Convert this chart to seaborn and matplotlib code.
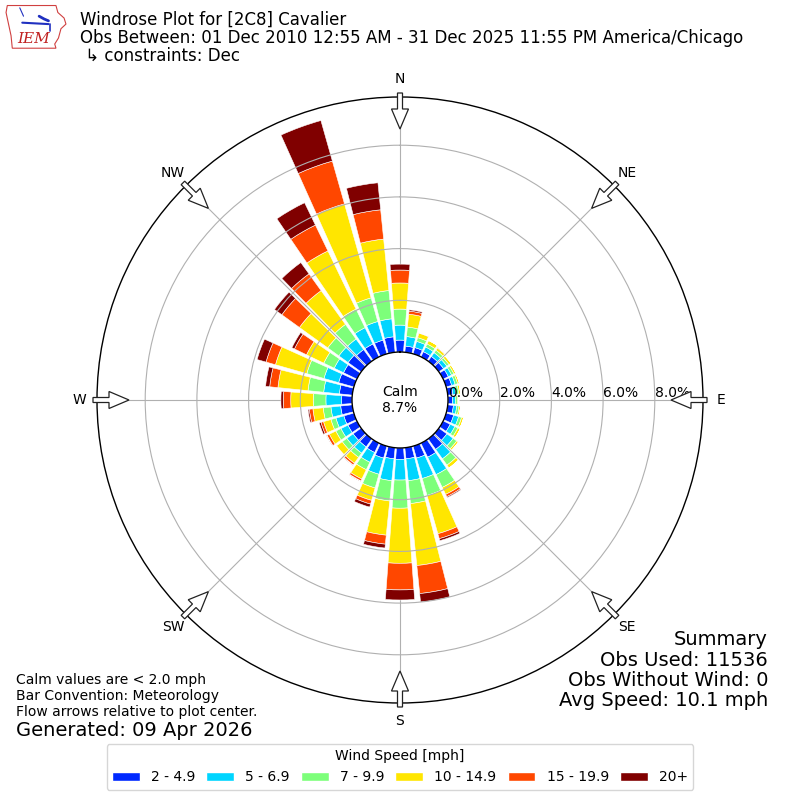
import numpy as np
import matplotlib
matplotlib.use("Agg")
import matplotlib.pyplot as plt
from matplotlib.patches import Patch, FancyArrow, Polygon
import seaborn as sns

# direction bins (deg, meteorological convention) and percent frequency per speed bin
directions = np.arange(0, 360, 10)
speed_labels = ["2 - 4.9", "5 - 6.9", "7 - 9.9", "10 - 14.9", "15 - 19.9", "20+"]
s_2_5 = [0.46, 0.24, 0.25, 0.22, 0.22, 0.22, 0.22, 0.22, 0.20, 0.18, 0.22, 0.30,
         0.30, 0.38, 0.50, 0.60, 0.48, 0.43, 0.44, 0.43, 0.48, 0.40, 0.38, 0.38,
         0.38, 0.40, 0.45, 0.40, 0.50, 0.61, 0.57, 0.62, 0.55, 0.55, 0.55, 0.60]
s_5_7 = [0.58, 0.37, 0.25, 0.20, 0.18, 0.16, 0.14, 0.14, 0.13, 0.11, 0.13, 0.20,
         0.20, 0.30, 0.45, 0.75, 0.82, 0.85, 0.80, 0.85, 0.65, 0.42, 0.30, 0.30,
         0.30, 0.32, 0.38, 0.61, 0.61, 0.59, 0.40, 0.44, 0.50, 0.70, 0.75, 0.70]
s_7_10 = [0.62, 0.37, 0.15, 0.13, 0.12, 0.10, 0.10, 0.10, 0.10, 0.08, 0.09, 0.12,
          0.13, 0.17, 0.30, 0.55, 0.68, 0.89, 1.09, 0.79, 0.55, 0.32, 0.20, 0.22,
          0.22, 0.20, 0.30, 0.49, 0.61, 0.69, 0.45, 0.53, 0.70, 0.80, 0.95, 1.10]
s_10_15 = [1.01, 0.50, 0.18, 0.15, 0.10, 0.10, 0.08, 0.07, 0.07, 0.05, 0.06, 0.08,
           0.10, 0.08, 0.14, 0.30, 1.54, 2.41, 2.13, 1.33, 0.50, 0.40, 0.28, 0.27,
           0.28, 0.30, 0.40, 0.87, 1.17, 1.26, 0.74, 1.35, 1.61, 2.50, 3.78, 2.00]
s_15_20 = [0.50, 0.12, 0.02, 0.00, 0.03, 0.00, 0.00, 0.00, 0.00, 0.00, 0.00, 0.00,
           0.00, 0.00, 0.00, 0.10, 0.20, 1.09, 1.03, 0.35, 0.15, 0.08, 0.08, 0.02,
           0.10, 0.10, 0.14, 0.29, 0.32, 0.38, 0.52, 0.84, 0.80, 1.11, 1.72, 1.14]
s_20p = [0.23, 0.05, 0.00, 0.00, 0.00, 0.00, 0.00, 0.00, 0.00, 0.00, 0.00, 0.00,
         0.00, 0.00, 0.00, 0.04, 0.08, 0.33, 0.39, 0.15, 0.12, 0.02, 0.02, 0.00,
         0.02, 0.07, 0.05, 0.09, 0.16, 0.36, 0.11, 0.35, 0.54, 0.96, 1.63, 1.05]
calm_pct = 8.7
ring_ticks = [0, 2, 4, 6, 8]
compass = ["N", "NE", "E", "SE", "S", "SW", "W", "NW"]

sns.set_theme(style="white", rc={"text.color": "black", "xtick.color": "black",
                                 "ytick.color": "black", "axes.edgecolor": "black"})
plt.rcParams["font.family"] = ["DejaVu Sans"]

colors = sns.color_palette(list(plt.cm.jet(np.linspace(0, 1, 7)[1:])))
bins = [s_2_5, s_5_7, s_7_10, s_10_15, s_15_20, s_20p]

fig = plt.figure(figsize=(8, 8), dpi=100)
ax = fig.add_axes([0.12125, 0.12125, 0.7575, 0.7575], projection="polar")
ax.set_theta_zero_location("N")
ax.set_theta_direction(-1)
rmax = 9.865
ax.set_ylim(0, rmax)
ax.set_rorigin(-1.857)

theta = np.deg2rad(directions)
width = np.deg2rad(10) * 0.84
bottom = np.zeros(len(directions))
for vals, c in zip(bins, colors):
    vals = np.array(vals)
    ax.bar(theta, vals, width=width, bottom=bottom, color=c,
           edgecolor="white", linewidth=0.4, zorder=1)
    bottom += vals

# radial spokes drawn under the bars, rings on top
for t in np.deg2rad(np.arange(0, 360, 45)):
    ax.plot([t, t], [0, rmax], color="#b0b0b0", lw=0.8, zorder=0.5)
ax.xaxis.grid(False)
ax.set_axisbelow(False)
ax.yaxis.grid(True, color="#b0b0b0", lw=0.8)
ax.set_yticks(ring_ticks[1:])
ax.set_yticklabels([])
for r in ring_ticks:
    ax.text(np.pi / 2, r, f"{r:.1f}%", ha="left", va="bottom", fontsize=10, zorder=5)

ax.set_xticks(np.deg2rad(np.arange(0, 360, 45)))
ax.set_xticklabels(compass, fontsize=10)
ax.tick_params(axis="x", pad=0)
ax.spines["polar"].set_linewidth(1.0)
ax.spines["inner"].set_linewidth(1.0)
ax.spines["inner"].set_color("black")

fig.text(0.5, 0.5, f"Calm\n{calm_pct}%", ha="center", va="center", fontsize=10)

# flow arrows on the outer ring pointing at the centre
for b in np.deg2rad(np.arange(0, 360, 45)):
    r0, r1 = 307 / 800, 271 / 800
    x0, y0 = 0.5 + r0 * np.sin(b), 0.5 + r0 * np.cos(b)
    x1, y1 = 0.5 + r1 * np.sin(b), 0.5 + r1 * np.cos(b)
    fig.add_artist(FancyArrow(x0, y0, x1 - x0, y1 - y0, width=5 / 800,
                              head_width=17 / 800, head_length=20 / 800,
                              length_includes_head=True, fc="white", ec="#222222",
                              lw=0.9, transform=fig.transFigure))

fig.text(0.1, 0.975, "Windrose Plot for [2C8] Cavalier", fontsize=12, va="center")
fig.text(0.1, 0.9525, "Obs Between: 01 Dec 2010 12:55 AM - 31 Dec 2025 11:55 PM America/Chicago",
         fontsize=12, va="center")
fig.text(0.1, 0.93, " \u21b3 constraints: Dec", fontsize=12, va="center")

fig.text(0.96, 0.2125, "Summary\nObs Used: 11536\nObs Without Wind: 0\nAvg Speed: 10.1 mph",
         ha="right", va="top", fontsize=14, linespacing=1.1, multialignment="right")
fig.text(0.02, 0.13, "Calm values are < 2.0 mph\nBar Convention: Meteorology\n"
         "Flow arrows relative to plot center.", fontsize=10, va="center", linespacing=1.15)
fig.text(0.02, 0.0875, "Generated: 09 Apr 2026", fontsize=14, va="center")

handles = [Patch(facecolor=c, label=l) for c, l in zip(colors, speed_labels)]
fig.legend(handles=handles, loc="lower center", bbox_to_anchor=(0.5, 0.004), ncol=6,
           title="Wind Speed [mph]", fontsize=10, title_fontsize=10, frameon=True,
           handlelength=2.0, handleheight=0.7, columnspacing=0.8, handletextpad=0.8)

# small IEM logo
lax = fig.add_axes([0.006, 0.938, 0.078, 0.058])
lax.set_xlim(0, 1)
lax.set_ylim(0, 1)
lax.axis("off")
iowa = [(0.04, 0.95), (0.82, 0.95), (0.85, 0.8), (0.95, 0.68), (0.98, 0.55), (0.9, 0.45),
        (0.86, 0.25), (0.8, 0.12), (0.82, 0.03), (0.12, 0.03), (0.1, 0.3), (0.06, 0.55), (0.02, 0.8)]
lax.add_patch(Polygon(iowa, closed=True, fill=False, ec="#d04040", lw=0.8))
lax.plot([0.28, 0.7], [0.58, 0.55], color="#2030c0", lw=1.5)
lax.plot([0.55, 0.63, 0.7], [0.72, 0.66, 0.62], color="#2030c0", lw=2)
lax.plot([0.72, 0.72], [0.55, 0.4], color="#2030c0", lw=1.2)
lax.plot([0.24, 0.3], [0.9, 0.72], color="#2030c0", lw=0.8)
lax.text(0.2, 0.22, "IEM", color="#c02020", fontsize=11, family="DejaVu Serif",
         style="italic", va="center")

fig.savefig("out.png", dpi=100)
